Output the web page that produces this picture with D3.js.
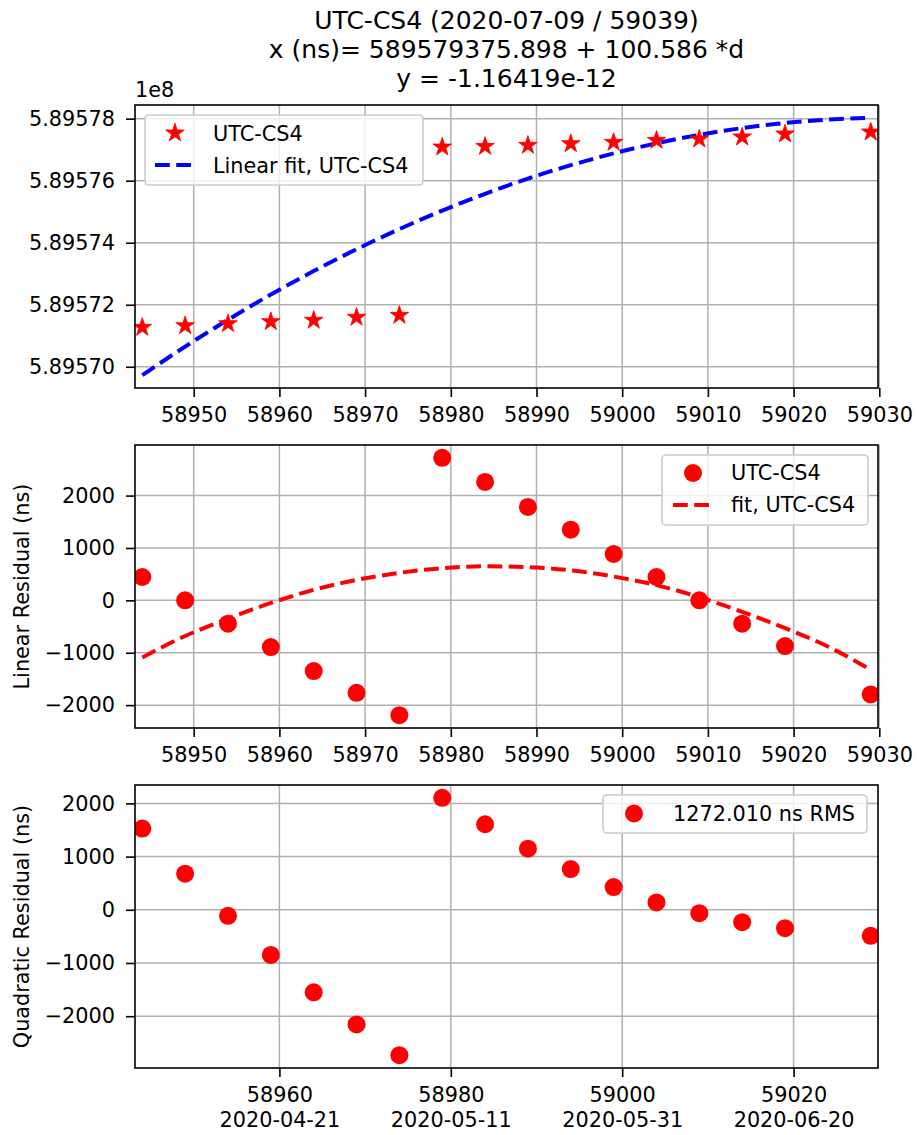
<!DOCTYPE html>
<html>
<head>
<meta charset="utf-8">
<script src="https://cdn.jsdelivr.net/npm/d3@7"></script>
<style>
  body { margin: 0; background: #fff; }
  text { font-family: "DejaVu Sans", sans-serif; fill: #000; }
</style>
</head>
<body>
<svg id="chart" width="917" height="1135"></svg>
<script>
// ---- data (MJD, time offset in ns) ----
const mjd = [58944, 58949, 58954, 58959, 58964, 58969, 58974, 58979, 58984,
             58989, 58994, 58999, 59004, 59009, 59014, 59019, 59029];
const utcCs4 = [589571270, 589571324, 589571389, 589571454, 589571497, 589571594,
                589571658, 589577085, 589577106, 589577139, 589577193, 589577236,
                589577300, 589577343, 589577408, 589577505, 589577569];
const fitMjd = [58944, 58949, 58954, 58959, 58964, 58969, 58974, 58979, 58984,
                58989, 58994, 58999, 59004, 59009, 59014, 59019, 59024, 59029];
const linearFit = [589569730, 589570650, 589571516, 589572328, 589573086, 589573790,
                   589574440, 589575036, 589575578, 589576066, 589576500, 589576880,
                   589577206, 589577478, 589577696, 589577860, 589577970, 589578026];
const linearResidual = [446, 0, -446, -892, -1350, -1764, -2191, 2720, 2261,
                        1783, 1350, 885, 446, 0, -446, -873, -1796];
const residualFit = [-1090, -680, -350, -50, 200, 390, 525, 615, 650,
                     635, 572, 455, 290, 62, -220, -530, -880, -1325];
const quadraticResidual = [1526, 678, -113, -848, -1551, -2154, -2732, 2104, 1608,
                           1149, 766, 427, 138, -63, -232, -345, -490];

// ---- ticks and labels ----
const titleLines = ["UTC-CS4 (2020-07-09 / 59039)",
                    "x (ns)= 589579375.898 + 100.586 *d",
                    "y = -1.16419e-12"];
const topYTicks = [589570000, 589572000, 589574000, 589576000, 589578000];
const topYLabels = ["5.89570", "5.89572", "5.89574", "5.89576", "5.89578"];
const topOffsetLabel = "1e8";
const residYTicks = [-2000, -1000, 0, 1000, 2000];
const mjdTicks = [58950, 58960, 58970, 58980, 58990, 59000, 59010, 59020, 59030];
const bottomTicks = [58960, 58980, 59000, 59020];
const bottomDates = ["2020-04-21", "2020-05-11", "2020-05-31", "2020-06-20"];
const legendTop = ["UTC-CS4", "Linear fit, UTC-CS4"];
const legendMid = ["UTC-CS4", "fit, UTC-CS4"];
const legendBottom = ["1272.010 ns RMS"];
const yLabelMid = "Linear Residual (ns)";
const yLabelBottom = "Quadratic Residual (ns)";

// ---- layout ----
const svg = d3.select("#chart");
const left = 135, right = 878, panelH = 283;
const tops = [105, 445, 785];
const FS = 20.8, TITLE_FS = 25;
const GRID = "#b0b0b0";

const xr = d3.extent(mjd);
const xpad = (xr[1] - xr[0]) * 0.01;
const x = d3.scaleLinear().domain([xr[0] - xpad, xr[1] + xpad]).range([left, right]);

function paddedY(values, top) {
  const e = d3.extent(values);
  const p = (e[1] - e[0]) * 0.05;
  return d3.scaleLinear().domain([e[0] - p, e[1] + p]).range([top + panelH, top]);
}

const fmtInt = d3.format("d");

function drawPanel(idx, y, yTicks, yFmt, xTicks, twoLine) {
  const top = tops[idx];
  const g = svg.append("g");
  const clipId = "clip" + idx;
  svg.append("clipPath").attr("id", clipId)
    .append("rect").attr("x", left).attr("y", top)
    .attr("width", right - left).attr("height", panelH);

  // grid
  g.append("g").selectAll("line").data(xTicks).join("line")
    .attr("x1", d => x(d)).attr("x2", d => x(d))
    .attr("y1", top).attr("y2", top + panelH)
    .attr("stroke", GRID).attr("stroke-width", 1.5);
  g.append("g").selectAll("line").data(yTicks).join("line")
    .attr("x1", left).attr("x2", right)
    .attr("y1", d => y(d)).attr("y2", d => y(d))
    .attr("stroke", GRID).attr("stroke-width", 1.5);

  // y axis
  const ya = g.append("g").attr("transform", `translate(${left},0)`)
    .call(d3.axisLeft(y).tickValues(yTicks).tickSize(9).tickPadding(11).tickFormat(yFmt));
  ya.select(".domain").remove();
  ya.selectAll(".tick line").attr("stroke", "#000").attr("stroke-width", 1.6);
  ya.selectAll(".tick text").attr("font-size", FS).attr("font-family", "DejaVu Sans");

  // x axis
  const xa = g.append("g").attr("transform", `translate(0,${top + panelH})`)
    .call(d3.axisBottom(x).tickValues(xTicks).tickSize(9).tickPadding(10)
      .tickFormat(twoLine ? () => "" : fmtInt));
  xa.select(".domain").remove();
  xa.selectAll(".tick line").attr("stroke", "#000").attr("stroke-width", 1.6);
  xa.selectAll(".tick text").attr("font-size", FS).attr("font-family", "DejaVu Sans");
  if (twoLine) {
    xa.selectAll(".tick text").each(function (d, i) {
      const t = d3.select(this);
      t.append("tspan").attr("x", 0).text(fmtInt(d));
      t.append("tspan").attr("x", 0).attr("dy", "1.2em").text(bottomDates[i]);
    });
  }

  const plot = g.append("g").attr("clip-path", `url(#${clipId})`);
  return { g, plot, top };
}

function frame(p) {
  p.g.append("rect").attr("x", left).attr("y", p.top)
    .attr("width", right - left).attr("height", panelH)
    .attr("fill", "none").attr("stroke", "#000").attr("stroke-width", 1.6);
}

function legendBox(g, x0, y0, w, h) {
  g.append("rect").attr("x", x0).attr("y", y0).attr("width", w).attr("height", h)
    .attr("rx", 4).attr("fill", "#fff").attr("fill-opacity", 0.8)
    .attr("stroke", "#cccccc").attr("stroke-width", 1.6);
}

const starPath = d3.symbol(d3.symbolStar).size(108)();
const DOT_R = 9;
const LW = 4, DASH = "14.8,6.4";

// ---- title ----
const tcx = (left + right) / 2;
svg.append("g").selectAll("text").data(titleLines).join("text")
  .attr("x", tcx).attr("y", (d, i) => 29 + i * 28.8)
  .attr("text-anchor", "middle").attr("font-size", TITLE_FS).text(d => d);

// ---- panel 1: data and linear fit ----
const y1 = paddedY(utcCs4.concat(linearFit), tops[0]);
const p1 = drawPanel(0, y1, topYTicks, (d, i) => topYLabels[i], mjdTicks, false);
p1.plot.append("path")
  .attr("d", d3.line().x((d, i) => x(fitMjd[i])).y(d => y1(d)).curve(d3.curveMonotoneX)(linearFit))
  .attr("fill", "none").attr("stroke", "#0000ff").attr("stroke-width", LW)
  .attr("stroke-dasharray", DASH);
p1.plot.append("g").selectAll("path").data(utcCs4).join("path")
  .attr("d", starPath)
  .attr("transform", (d, i) => `translate(${x(mjd[i])},${y1(d)})`)
  .attr("fill", "#ff0000").attr("stroke", "#ff0000").attr("stroke-width", 0.8);
frame(p1);
svg.append("text").attr("x", left).attr("y", 97).attr("font-size", FS).text(topOffsetLabel);

{
  const g = p1.g;
  legendBox(g, 145, 115, 278, 70);
  g.append("path").attr("d", starPath).attr("transform", "translate(175,133)")
    .attr("fill", "#ff0000").attr("stroke", "#ff0000").attr("stroke-width", 0.8);
  g.append("line").attr("x1", 155).attr("x2", 195).attr("y1", 165).attr("y2", 165)
    .attr("stroke", "#0000ff").attr("stroke-width", LW).attr("stroke-dasharray", DASH);
  g.selectAll(".lg").data(legendTop).join("text").attr("class", "lg")
    .attr("x", 213).attr("y", (d, i) => 141 + i * 32).attr("font-size", FS).text(d => d);
}

// ---- panel 2: linear residual ----
const y2 = paddedY(linearResidual.concat(residualFit), tops[1]);
const p2 = drawPanel(1, y2, residYTicks, d3.format("d"), mjdTicks, false);
p2.plot.append("g").selectAll("circle").data(linearResidual).join("circle")
  .attr("cx", (d, i) => x(mjd[i])).attr("cy", d => y2(d)).attr("r", DOT_R)
  .attr("fill", "#ff0000");
p2.plot.append("path")
  .attr("d", d3.line().x((d, i) => x(fitMjd[i])).y(d => y2(d)).curve(d3.curveMonotoneX)(residualFit))
  .attr("fill", "none").attr("stroke", "#ff0000").attr("stroke-width", LW)
  .attr("stroke-dasharray", DASH);
frame(p2);
{
  const g = p2.g;
  legendBox(g, 662, 455, 206, 70);
  g.append("circle").attr("cx", 693).attr("cy", 473).attr("r", DOT_R).attr("fill", "#ff0000");
  g.append("line").attr("x1", 673).attr("x2", 713).attr("y1", 505).attr("y2", 505)
    .attr("stroke", "#ff0000").attr("stroke-width", LW).attr("stroke-dasharray", DASH);
  g.selectAll(".lg").data(legendMid).join("text").attr("class", "lg")
    .attr("x", 731).attr("y", (d, i) => 480 + i * 32).attr("font-size", FS).text(d => d);
}
svg.append("text")
  .attr("transform", `translate(29,${tops[1] + panelH / 2}) rotate(-90)`)
  .attr("text-anchor", "middle").attr("font-size", FS).text(yLabelMid);

// ---- panel 3: quadratic residual ----
const y3 = paddedY(quadraticResidual, tops[2]);
const p3 = drawPanel(2, y3, residYTicks, d3.format("d"), bottomTicks, true);
p3.plot.append("g").selectAll("circle").data(quadraticResidual).join("circle")
  .attr("cx", (d, i) => x(mjd[i])).attr("cy", d => y3(d)).attr("r", DOT_R)
  .attr("fill", "#ff0000");
frame(p3);
{
  const g = p3.g;
  legendBox(g, 603, 795, 264, 38);
  g.append("circle").attr("cx", 634).attr("cy", 813.5).attr("r", DOT_R).attr("fill", "#ff0000");
  g.selectAll(".lg").data(legendBottom).join("text").attr("class", "lg")
    .attr("x", 673).attr("y", 820.5).attr("font-size", FS).text(d => d);
}
svg.append("text")
  .attr("transform", `translate(29,${tops[2] + panelH / 2}) rotate(-90)`)
  .attr("text-anchor", "middle").attr("font-size", FS).text(yLabelBottom);
</script>
</body>
</html>
